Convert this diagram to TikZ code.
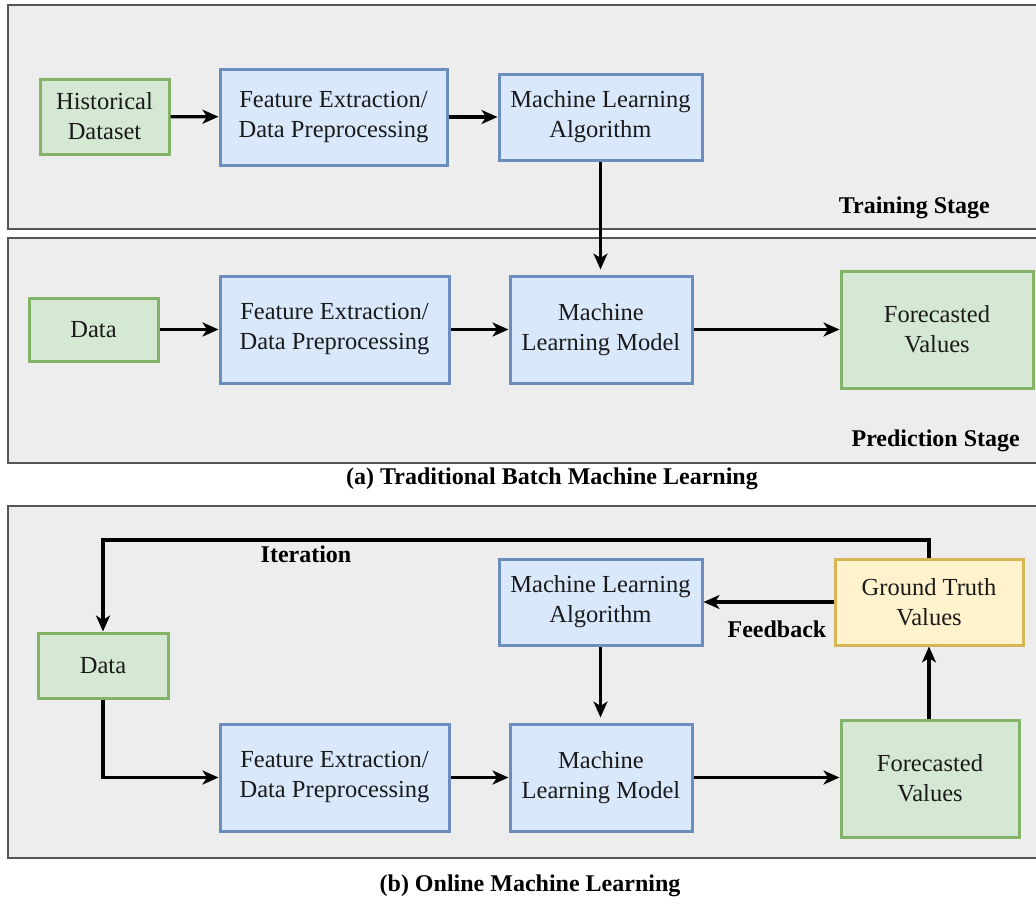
\documentclass[tikz,border=0pt]{standalone}
\usepackage{fontspec}
\setmainfont{Liberation Serif}
\usetikzlibrary{arrows.meta,positioning}
\definecolor{panelfill}{HTML}{EDEDED}
\definecolor{paneldraw}{HTML}{555555}
\definecolor{gfill}{HTML}{D5E8D4}
\definecolor{gdraw}{HTML}{82B366}
\definecolor{bfill}{HTML}{DAE8FC}
\definecolor{bdraw}{HTML}{6C8EBF}
\definecolor{yfill}{HTML}{FFF2CC}
\definecolor{ydraw}{HTML}{D6B656}
\definecolor{txt}{HTML}{1A1A1A}
\tikzset{
  panel/.style={fill=panelfill,draw=paneldraw,line width=2.2pt},
  box/.style={line width=3pt,inner sep=0pt,align=center,text=txt,
    font=\fontsize{24.5}{30}\selectfont},
  gbox/.style={box,fill=gfill,draw=gdraw},
  bbox/.style={box,fill=bfill,draw=bdraw},
  ybox/.style={box,fill=yfill,draw=ydraw},
  conn/.style={line width=3.2pt,-{Stealth[length=16pt,width=14pt,inset=4.5pt]}},
  lbl/.style={font=\fontsize{24}{28}\selectfont\bfseries,text=black,inner sep=0pt},
}
\begin{document}
\begin{tikzpicture}[x=1pt,y=-1pt]
\useasboundingbox (0,0) rectangle (1036,903);
\fill[white] (0,0) rectangle (1036,903);
% panels
\draw[panel] (8,5) rectangle (1050,229);
\draw[panel] (8,238) rectangle (1050,463);
\draw[panel] (8,506) rectangle (1050,858);

% training stage
\node[gbox,minimum width=129pt,minimum height=75pt] (hd) at (104.5,116.5) {Historical\\Dataset};
\node[bbox,minimum width=227pt,minimum height=96pt] (fe1) at (333.5,117) {Feature Extraction/\\Data Preprocessing};
\node[bbox,minimum width=203pt,minimum height=86pt] (mla1) at (600.5,117) {Machine Learning\\Algorithm};
\node[lbl,anchor=east] (ts) at (990,208) {Training Stage};

% prediction stage
\node[gbox,minimum width=129pt,minimum height=63pt] (d2) at (93.5,329.5) {Data};
\node[bbox,minimum width=229pt,minimum height=107pt] (fe2) at (334.5,329.5) {Feature Extraction/\\Data Preprocessing};
\node[bbox,minimum width=182pt,minimum height=107pt] (mlm2) at (601,329.5) {Machine\\Learning Model};
\node[gbox,minimum width=192pt,minimum height=117pt] (fv2) at (937,329.5) {Forecasted\\Values};
\node[lbl,anchor=east] (ps) at (1020,441) {Prediction Stage};
\node[lbl] (capa) at (552,479) {(a) Traditional Batch Machine Learning};

% online
\node[gbox,minimum width=130pt,minimum height=65pt] (d3) at (103,665.5) {Data};
\node[bbox,minimum width=203pt,minimum height=86pt] (mla3) at (600.5,602) {Machine Learning\\Algorithm};
\node[ybox,minimum width=188pt,minimum height=86pt] (gt) at (929,602) {Ground Truth\\Values};
\node[bbox,minimum width=229pt,minimum height=107pt] (fe3) at (334.5,777.5) {Feature Extraction/\\Data Preprocessing};
\node[bbox,minimum width=182pt,minimum height=107pt] (mlm3) at (601,777.5) {Machine\\Learning Model};
\node[gbox,minimum width=178pt,minimum height=117pt] (fv3) at (930,778.5) {Forecasted\\Values};
\node[lbl] (it) at (306,554) {Iteration};
\node[lbl] (fb) at (777,629) {Feedback};
\node[lbl] (capb) at (530,886) {(b) Online Machine Learning};
\coordinate (itr) at (929,540);
\coordinate (itl) at (103,540);

% connectors
\draw[conn] (hd) -- (fe1);
\draw[conn] (fe1) -- (mla1);
\draw[conn,shorten >=5pt] (mla1.south) -- (mla1.south |- mlm2.north);
\draw[conn] (d2) -- (fe2);
\draw[conn] (fe2) -- (mlm2);
\draw[conn] (mlm2) -- (fv2);

\draw[conn] (gt.north) -- (itr) -- (itl) -- (d3.north);
\draw[conn] (gt.west) -- (gt.west -| mla3.east);
\draw[conn,shorten >=5pt] (mla3.south) -- (mla3.south |- mlm3.north);
\draw[conn] (d3.south) |- (fe3.west);
\draw[conn] (fe3) -- (mlm3);
\draw[conn] (mlm3.east) -- (mlm3.east -| fv3.west);
\draw[conn] (fv3.north -| gt.north) -- (gt.south);
\end{tikzpicture}
\end{document}
